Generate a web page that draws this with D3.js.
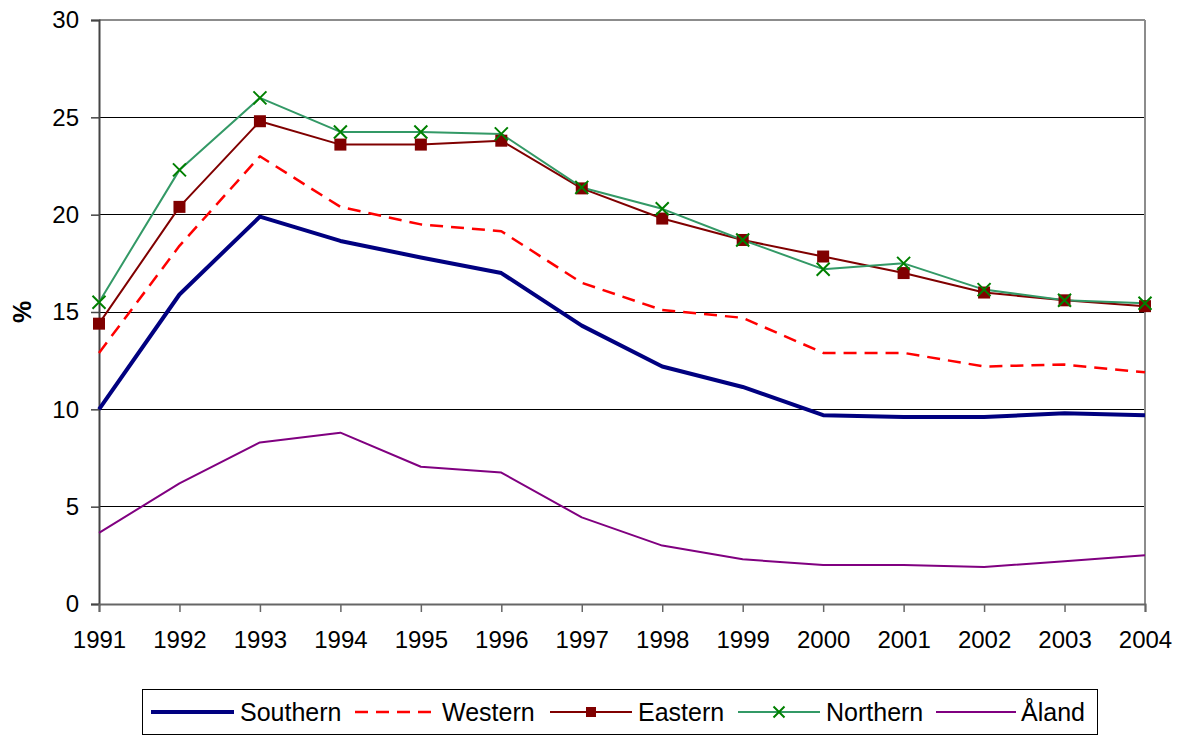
<!DOCTYPE html>
<html>
<head>
<meta charset="utf-8">
<script src="https://cdn.jsdelivr.net/npm/d3@7"></script>
<style>
  html, body { margin: 0; padding: 0; background: #fff; }
  svg { display: block; }
  text { font-family: "Liberation Sans", Arial, sans-serif; }
</style>
</head>
<body>
<svg id="chart" width="1182" height="735"></svg>
<script>
const years = [1991,1992,1993,1994,1995,1996,1997,1998,1999,2000,2001,2002,2003,2004];
const southern = [10.0,15.9,19.9,18.65,17.8,17.0,14.3,12.2,11.15,9.7,9.6,9.6,9.8,9.7];
const western  = [12.9,18.4,23.0,20.4,19.5,19.15,16.5,15.1,14.7,12.9,12.9,12.2,12.3,11.9];
const eastern  = [14.4,20.4,24.8,23.6,23.6,23.8,21.35,19.8,18.7,17.85,17.0,16.0,15.6,15.3];
const northern = [15.5,22.3,26.0,24.25,24.25,24.15,21.4,20.3,18.7,17.2,17.5,16.15,15.6,15.45];
const aland    = [3.65,6.2,8.3,8.8,7.05,6.75,4.45,3.0,2.3,2.0,2.0,1.9,2.2,2.5];
const yTicks = [0,5,10,15,20,25,30];
const seriesNames = ["Southern","Western","Eastern","Northern","Åland"];

const svg = d3.select("#chart");
const L = 99, R = 1145, T = 20, B = 604;

const x = d3.scaleLinear().domain([1991, 2004]).range([L, R]);
const y = d3.scaleLinear().domain([0, 30]).range([B, T]);

// gridlines
svg.append("g").selectAll("line").data(yTicks.filter(d => d > 0 && d < 30)).join("line")
  .attr("x1", L).attr("x2", R).attr("y1", d => y(d)).attr("y2", d => y(d))
  .attr("stroke", "#000").attr("stroke-width", 1).attr("shape-rendering", "crispEdges");

// frame top & right (gray)
svg.append("line").attr("x1", L).attr("x2", R).attr("y1", y(30)).attr("y2", y(30))
  .attr("stroke", "#8c8c8c").attr("stroke-width", 2);
svg.append("line").attr("x1", R).attr("x2", R).attr("y1", y(30)).attr("y2", B)
  .attr("stroke", "#8c8c8c").attr("stroke-width", 2);

// y axis
const yAxis = svg.append("g").attr("transform", `translate(${L},0)`)
  .call(d3.axisLeft(y).tickValues(yTicks).tickSize(8).tickPadding(12).tickFormat(d3.format("d")));
yAxis.select(".domain").attr("stroke", "#444").attr("stroke-width", 2);
yAxis.selectAll(".tick line").attr("stroke", "#444").attr("stroke-width", 1.5);
yAxis.selectAll("text").attr("font-size", 24).attr("fill", "#000")
  .style("font-family", "'Liberation Sans', Arial, sans-serif");

// x axis
const xAxis = svg.append("g").attr("transform", `translate(0,${B})`)
  .call(d3.axisBottom(x).tickValues(years).tickSize(8).tickPadding(19).tickFormat(d3.format("d")));
xAxis.select(".domain").attr("stroke", "#666").attr("stroke-width", 2);
xAxis.selectAll(".tick line").attr("stroke", "#666").attr("stroke-width", 1.5);
xAxis.selectAll("text").attr("font-size", 24).attr("fill", "#000")
  .style("font-family", "'Liberation Sans', Arial, sans-serif");

// y label
svg.append("text").attr("transform", `translate(31,${y(15)}) rotate(-90)`)
  .attr("text-anchor", "middle").attr("font-size", 25).attr("font-weight", "bold").text("%");

const line = d3.line().x((d, i) => x(years[i])).y(d => y(d));

const styles = {
  Southern: { data: southern, color: "#000080", width: 4, dash: null },
  Western:  { data: western,  color: "#ff0000", width: 2.5, dash: "13,8" },
  Eastern:  { data: eastern,  color: "#800000", width: 2, dash: null, marker: "square" },
  Northern: { data: northern, color: "#339966", width: 2, dash: null, marker: "x" },
  "Åland":  { data: aland,    color: "#800080", width: 2, dash: null }
};

const drawOrder = ["Åland","Western","Southern","Eastern","Northern"];
drawOrder.forEach(name => {
  const s = styles[name];
  svg.append("path").datum(s.data).attr("d", line)
    .attr("fill", "none").attr("stroke", s.color).attr("stroke-width", s.width)
    .attr("stroke-dasharray", s.dash).attr("stroke-linejoin", "round");
});

function drawMarker(g, type, cx, cy) {
  if (type === "square") {
    g.append("rect").attr("x", cx - 6).attr("y", cy - 6).attr("width", 12).attr("height", 12)
      .attr("fill", "#800000");
  } else if (type === "x") {
    const r = 6.5;
    g.append("path").attr("d", `M${cx-r},${cy-r}L${cx+r},${cy+r}M${cx-r},${cy+r}L${cx+r},${cy-r}`)
      .attr("stroke", "#008000").attr("stroke-width", 2).attr("fill", "none");
  }
}
["Eastern","Northern"].forEach(name => {
  const s = styles[name];
  const g = svg.append("g");
  s.data.forEach((v, i) => drawMarker(g, s.marker, x(years[i]), y(v)));
});

// legend
const lg = svg.append("g");
lg.append("rect").attr("x", 142.5).attr("y", 689.5).attr("width", 955).attr("height", 45)
  .attr("fill", "#fff").attr("stroke", "#000").attr("stroke-width", 1);
const legendItems = [
  { name: "Southern", x1: 151, x2: 234, tx: 240 },
  { name: "Western",  x1: 355, x2: 436, tx: 442 },
  { name: "Eastern",  x1: 550, x2: 632, tx: 638 },
  { name: "Northern", x1: 738, x2: 820, tx: 826 },
  { name: "Åland",    x1: 936, x2: 1016, tx: 1021 }
];
const ly = 712;
legendItems.forEach(it => {
  const s = styles[it.name];
  lg.append("line").attr("x1", it.x1).attr("x2", it.x2).attr("y1", ly).attr("y2", ly)
    .attr("stroke", s.color).attr("stroke-width", s.width).attr("stroke-dasharray", s.dash);
  if (s.marker) {
    if (s.marker === "square") {
      lg.append("rect").attr("x", (it.x1+it.x2)/2 - 5).attr("y", ly - 5).attr("width", 10).attr("height", 10).attr("fill", "#800000");
    } else {
      const cx = (it.x1+it.x2)/2, r = 5.5;
      lg.append("path").attr("d", `M${cx-r},${ly-r}L${cx+r},${ly+r}M${cx-r},${ly+r}L${cx+r},${ly-r}`)
        .attr("stroke", "#008000").attr("stroke-width", 2);
    }
  }
  lg.append("text").attr("x", it.tx).attr("y", ly).attr("dy", "0.36em")
    .attr("font-size", 25).attr("fill", "#000").text(it.name);
});
</script>
</body>
</html>
